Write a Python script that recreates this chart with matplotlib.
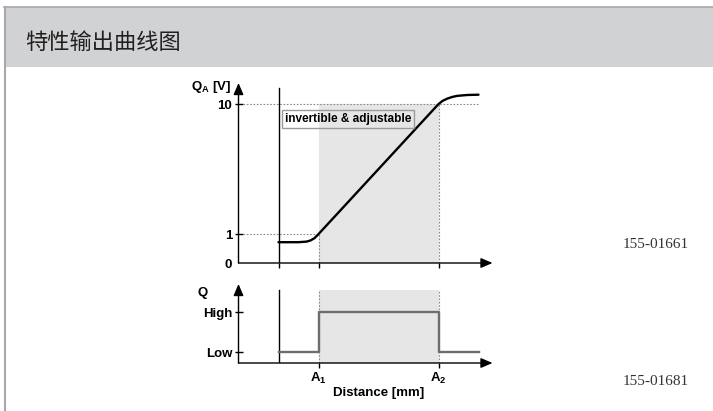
import numpy as np
import matplotlib
matplotlib.use('Agg')
import matplotlib.pyplot as plt
from matplotlib.patches import Rectangle
from matplotlib.lines import Line2D

plt.rcParams['font.family'] = ['Liberation Sans', 'DejaVu Sans']
plt.rcParams['font.weight'] = 'bold'
plt.rcParams['mathtext.fontset'] = 'custom'
plt.rcParams['mathtext.rm'] = 'Liberation Sans:bold'

title = '特性输出曲线图'

# distance in schematic units: sensing starts at 1, A1 = 2, A2 = 5
x_start = 1.0
a1, a2 = 2.0, 5.0
x_end = 6.0

# analog output Q_A [V]
x_curve = [1.0, 1.5, 1.7, 1.8, 1.9, 2.0, 4.9, 5.0, 5.1, 5.22, 5.35, 5.47, 5.72, 6.0]
qa_curve = [0.72, 0.72, 0.74, 0.78, 0.86, 1.0, 9.7, 10.0, 10.22, 10.38, 10.5, 10.57, 10.63, 10.65]
qa_ticks = [0, 1, 10]
qa_labels = ['0', '1', '10']

# switching output Q: 0 = Low, 1 = High
x_switch = [1.0, 2.0, 2.0, 5.0, 5.0, 6.0]
q_switch = [0, 0, 1, 1, 0, 0]
q_ticks = [0, 1]
q_labels = ['Low', 'High']

codes = ['155-01661', '155-01681']

W, H = 713, 411
fig = plt.figure(figsize=(W / 100, H / 100), dpi=100)


def px(x0, y0, w, h):
    return [x0 / W, 1 - (y0 + h) / H, w / W, h / H]


# header band and frame lines
fig.patches.append(Rectangle((4 / W, 1 - 67.5 / H), 1, 60.5 / H, transform=fig.transFigure,
                             facecolor='#d1d2d4', edgecolor='none', zorder=0))
fig.lines.append(Line2D([4 / W, 1], [1 - 7 / H, 1 - 7 / H], transform=fig.transFigure,
                        color='#a7a9ac', lw=1.2))
fig.lines.append(Line2D([5 / W, 5 / W], [0, 1 - 7 / H], transform=fig.transFigure,
                        color='#a7a9ac', lw=1.5))
fig.text(25 / W, 1 - 42 / H, title, family=['Noto Sans CJK SC', 'DejaVu Sans'],
         fontsize=16, fontweight='normal', color='#231f20', ha='left', va='center')


def fwd(y):
    y = np.asarray(y, float)
    return np.where(y < 1, 2 * y, y + 1)


def inv(s):
    s = np.asarray(s, float)
    return np.where(s < 2, s / 2, s - 1)


grid = '#8a8a8a'
shade = '#e6e6e6'

# top: analog characteristic
ax1 = fig.add_axes(px(238.5, 83, 254, 180))
ax1.set_yscale('function', functions=(fwd, inv))
ax1.set_xlim(0, 6.35)
ax1.set_ylim(0, 11.46)
ax1.fill_between([a1, a2], 0, 10, color=shade, lw=0, zorder=0)
ax1.plot([0.12, x_end], [10, 10], ls=(0, (1.5, 1.5)), color=grid, lw=0.8)
ax1.plot([0.12, a1], [1, 1], ls=(0, (1.5, 1.5)), color=grid, lw=0.8)
ax1.plot([a1, a1], [0, 1], ls=(0, (1.5, 1.5)), color=grid, lw=0.8)
ax1.plot([a2, a2], [0, 10], ls=(0, (1.5, 1.5)), color=grid, lw=0.8)
ax1.plot([x_start, x_start], [0, 11.1], color='k', lw=1.0)
ax1.plot(x_curve, qa_curve, color='k', lw=1.7, solid_capstyle='round')
ax1.text(1.16, 9.4, 'invertible & adjustable', fontsize=8.5, va='top', ha='left',
         bbox=dict(boxstyle='square,pad=0.25', facecolor='none', edgecolor='#9a9a9a', lw=1.0))
ax1.set_xticks([x_start, a1, a2])
ax1.set_xticklabels([])
ax1.set_yticks(qa_ticks)
ax1.set_yticklabels(qa_labels)
ax1.yaxis.get_major_ticks()[0].tick1line.set_visible(False)

# bottom: switching output
ax2 = fig.add_axes(px(238.5, 284, 254, 79))
ax2.set_xlim(0, 6.35)
ax2.set_ylim(-0.275, 1.7)
ax2.fill_between([a1, a2], -0.275, 1.55, color=shade, lw=0, zorder=0)
ax2.plot([a1, a1], [-0.275, 1.55], ls=(0, (1.5, 1.5)), color=grid, lw=0.8)
ax2.plot([a2, a2], [-0.275, 1.55], ls=(0, (1.5, 1.5)), color=grid, lw=0.8)
ax2.plot([x_start, x_start], [-0.275, 1.55], color='k', lw=1.0)
ax2.plot(x_switch, q_switch, color='#6d6d6d', lw=1.7)
ax2.set_xticks([a1, a2])
ax2.set_xticklabels([r'$\mathrm{A}_\mathrm{1}$', r'$\mathrm{A}_\mathrm{2}$'])
ax2.set_yticks(q_ticks)
ax2.set_yticklabels(q_labels)
ax2.text(3.5, -1.02, 'Distance [mm]', fontsize=9.5, ha='center', va='center', clip_on=False)

for ax in (ax1, ax2):
    for s in ax.spines.values():
        s.set_visible(False)
    ax.patch.set_visible(False)
    ax.tick_params(axis='x', direction='out', length=3.5, width=1.0, pad=2.5, labelsize=9.5)
    ax.tick_params(axis='y', direction='inout', length=6, width=1.0, pad=1.5, labelsize=9.5)
    arrow = dict(arrowstyle='-|>,head_length=0.7,head_width=0.3', lw=1.0, color='k',
                 mutation_scale=10, shrinkA=0, shrinkB=0)
    ax.annotate('', xy=(1, 0), xytext=(0, 0), xycoords='axes fraction', arrowprops=arrow)
    ax.annotate('', xy=(0, 1), xytext=(0, 0), xycoords='axes fraction', arrowprops=arrow)

fig.text(231 / W, 1 - 87 / H, r'$\mathrm{Q}_\mathrm{A}$ [V]', fontsize=9.5, ha='right', va='center')
fig.text(208 / W, 1 - 293 / H, 'Q', fontsize=9.5, ha='right', va='center')
fig.text(656 / W, 1 - 244 / H, codes[0], family='Liberation Serif', fontweight='normal',
         fontsize=11, color='#333333', ha='center', va='center')
fig.text(656 / W, 1 - 381 / H, codes[1], family='Liberation Serif', fontweight='normal',
         fontsize=11, color='#333333', ha='center', va='center')

fig.savefig('out.png', dpi=100)
